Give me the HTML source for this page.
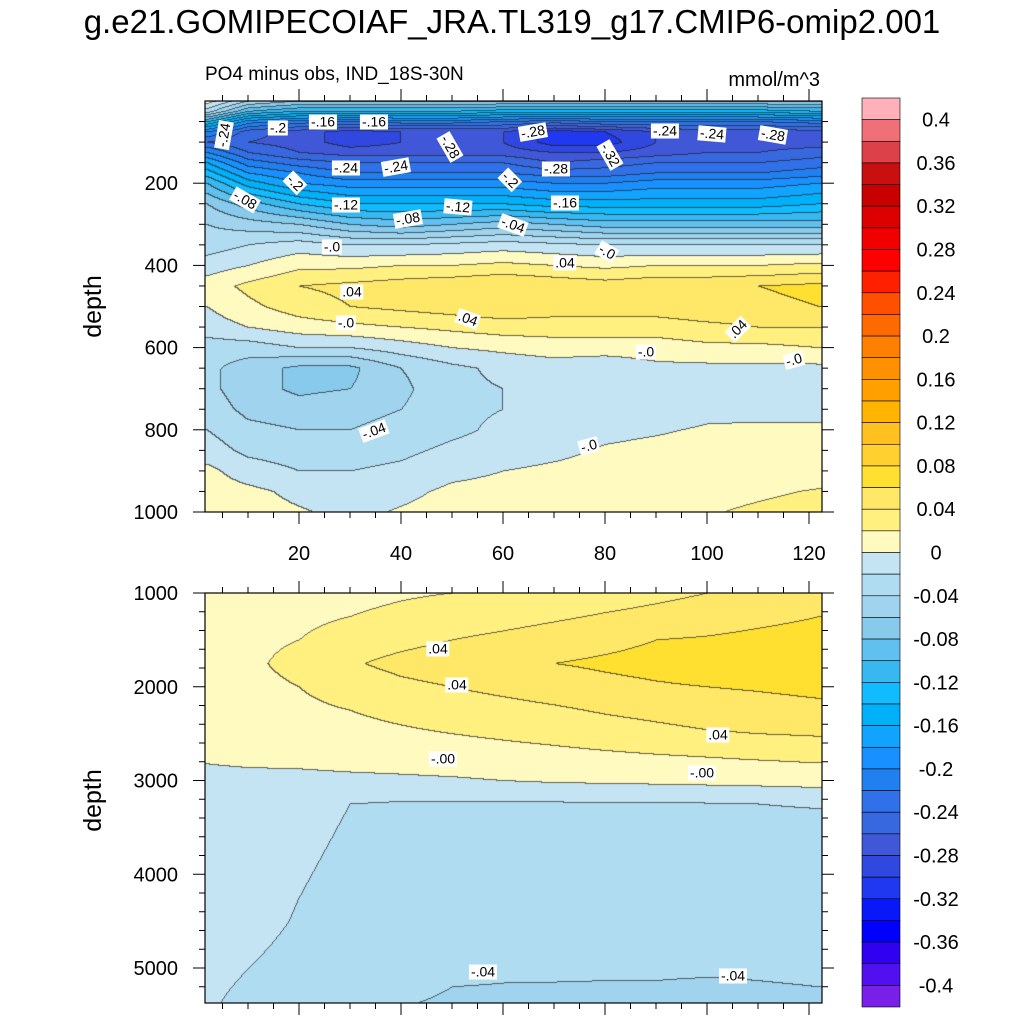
<!DOCTYPE html>
<html><head><meta charset="utf-8">
<style>
body{margin:0;background:#fff;width:1024px;height:1024px;overflow:hidden;position:relative;font-family:"Liberation Sans",sans-serif;}
.abs{position:absolute;}
.lbl{position:absolute;background:#fff;font-size:14px;line-height:15px;padding:0 2px;transform:translate(-50%,-50%);white-space:nowrap;color:#000;}
canvas{position:absolute;}
</style></head><body>
<div class="abs" style="left:0;width:1024px;top:3px;text-align:center;font-size:33px;">g.e21.GOMIPECOIAF_JRA.TL319_g17.CMIP6-omip2.001</div>
<div class="abs" style="left:205px;top:64px;font-size:19px;">PO4 minus obs, IND_18S-30N</div>
<div class="abs" style="left:680px;width:140px;text-align:right;top:69px;font-size:20px;">mmol/m^3</div>
<div class="abs" style="left:62px;top:292px;font-size:25px;transform:rotate(-90deg);">depth</div>
<div class="abs" style="left:62px;top:786px;font-size:25px;transform:rotate(-90deg);">depth</div>
<canvas id="c1" width="617" height="411" style="left:205px;top:101px"></canvas>
<canvas id="c2" width="617" height="410" style="left:205px;top:593px"></canvas>
<svg id="ax" width="1024" height="1024" style="position:absolute;left:0;top:0"></svg>
<div id="labels"></div>
<script>
const xCols=[2,10,20,30,40,50,60,70,80,90,100,110,122];
const topDepths=[0,25,50,75,100,125,150,175,200,250,300,350,400,450,500,550,600,650,700,750,800,850,900,950,1000];
const topVals=[
[0.01,-0.04,-0.06,-0.06,-0.06,-0.06,-0.06,-0.06,-0.06,-0.06,-0.06,-0.06,-0.06],
[-0.03,-0.10,-0.12,-0.12,-0.12,-0.12,-0.13,-0.13,-0.13,-0.13,-0.13,-0.13,-0.12],
[-0.12,-0.19,-0.21,-0.22,-0.21,-0.21,-0.22,-0.23,-0.22,-0.22,-0.22,-0.22,-0.21],
[-0.2,-0.25,-0.27,-0.29,-0.28,-0.28,-0.28,-0.31,-0.30,-0.28,-0.27,-0.27,-0.27],
[-0.24,-0.26,-0.27,-0.29,-0.28,-0.28,-0.28,-0.31,-0.31,-0.28,-0.27,-0.27,-0.27],
[-0.2,-0.24,-0.26,-0.27,-0.27,-0.27,-0.27,-0.28,-0.28,-0.27,-0.26,-0.26,-0.25],
[-0.16,-0.21,-0.23,-0.24,-0.24,-0.24,-0.24,-0.26,-0.25,-0.24,-0.24,-0.24,-0.23],
[-0.13,-0.18,-0.2,-0.22,-0.22,-0.22,-0.22,-0.23,-0.23,-0.22,-0.22,-0.22,-0.21],
[-0.10,-0.15,-0.18,-0.19,-0.19,-0.19,-0.19,-0.2,-0.2,-0.19,-0.19,-0.19,-0.18],
[-0.06,-0.09,-0.12,-0.14,-0.14,-0.14,-0.14,-0.15,-0.15,-0.15,-0.15,-0.15,-0.14],
[-0.04,-0.05,-0.06,-0.08,-0.09,-0.08,-0.07,-0.08,-0.09,-0.09,-0.09,-0.09,-0.09],
[-0.03,-0.02,-0.01,-0.02,-0.02,-0.015,-0.01,-0.015,-0.02,-0.02,-0.02,-0.02,-0.02],
[-0.01,0.0,0.015,0.015,0.02,0.02,0.025,0.02,0.015,0.02,0.02,0.02,0.025],
[0.01,0.025,0.04,0.045,0.05,0.055,0.06,0.055,0.05,0.055,0.055,0.06,0.065],
[0.0,0.015,0.03,0.04,0.045,0.05,0.055,0.05,0.05,0.05,0.055,0.055,0.06],
[-0.01,0.0,0.01,0.015,0.02,0.025,0.03,0.03,0.03,0.03,0.035,0.04,0.04],
[-0.03,-0.03,-0.02,-0.02,-0.01,0.0,0.005,0.01,0.01,0.01,0.015,0.015,0.02],
[-0.035,-0.05,-0.065,-0.065,-0.04,-0.025,-0.015,-0.01,-0.015,-0.005,-0.005,-0.005,-0.005],
[-0.035,-0.05,-0.065,-0.06,-0.045,-0.025,-0.02,-0.01,-0.01,-0.01,-0.01,-0.01,-0.01],
[-0.03,-0.045,-0.05,-0.045,-0.04,-0.025,-0.02,-0.015,-0.01,-0.01,-0.005,-0.005,-0.005],
[-0.02,-0.035,-0.04,-0.04,-0.035,-0.025,-0.015,-0.01,-0.005,-0.002,0.002,0.003,0.003],
[-0.01,-0.025,-0.03,-0.03,-0.025,-0.015,-0.01,-0.005,0.002,0.005,0.007,0.008,0.008],
[0.005,-0.01,-0.02,-0.02,-0.015,-0.005,0.0,0.004,0.008,0.01,0.012,0.013,0.014],
[0.01,0.005,-0.005,-0.01,-0.005,0.004,0.006,0.009,0.012,0.014,0.016,0.018,0.021],
[0.012,0.008,0.002,-0.005,0.002,0.008,0.01,0.012,0.014,0.016,0.019,0.022,0.025]];
const botDepths=[1000,1250,1500,1750,2000,2250,2500,2750,3000,3250,3500,4000,4500,5000,5200,5370];
const botVals=[
[0.005,0.01,0.012,0.015,0.018,0.02,0.022,0.025,0.03,0.035,0.04,0.045,0.05],
[0.005,0.012,0.015,0.02,0.024,0.028,0.032,0.037,0.042,0.046,0.05,0.055,0.06],
[0.005,0.014,0.02,0.03,0.035,0.04,0.045,0.05,0.055,0.06,0.062,0.065,0.068],
[0.0,0.015,0.028,0.038,0.045,0.05,0.058,0.06,0.063,0.066,0.07,0.073,0.075],
[0.004,0.012,0.02,0.03,0.036,0.04,0.045,0.05,0.055,0.058,0.06,0.062,0.065],
[0.006,0.01,0.015,0.02,0.025,0.03,0.033,0.037,0.042,0.046,0.05,0.052,0.055],
[0.005,0.008,0.01,0.014,0.017,0.02,0.023,0.026,0.03,0.034,0.038,0.04,0.042],
[0.002,0.004,0.005,0.007,0.008,0.01,0.012,0.014,0.016,0.018,0.02,0.022,0.024],
[-0.005,-0.005,-0.005,-0.004,-0.003,-0.002,0.0,0.002,0.003,0.004,0.005,0.006,0.008],
[-0.01,-0.012,-0.016,-0.02,-0.022,-0.022,-0.022,-0.022,-0.022,-0.022,-0.021,-0.02,-0.019],
[-0.01,-0.013,-0.017,-0.021,-0.023,-0.024,-0.025,-0.025,-0.025,-0.025,-0.024,-0.024,-0.024],
[-0.01,-0.014,-0.019,-0.023,-0.025,-0.026,-0.027,-0.027,-0.027,-0.027,-0.027,-0.027,-0.027],
[-0.012,-0.016,-0.021,-0.025,-0.027,-0.028,-0.03,-0.03,-0.03,-0.03,-0.03,-0.03,-0.03],
[-0.015,-0.02,-0.024,-0.028,-0.031,-0.034,-0.036,-0.037,-0.038,-0.038,-0.038,-0.038,-0.037],
[-0.017,-0.022,-0.027,-0.032,-0.036,-0.04,-0.041,-0.041,-0.041,-0.041,-0.042,-0.041,-0.04],
[-0.018,-0.024,-0.03,-0.035,-0.039,-0.042,-0.043,-0.043,-0.043,-0.043,-0.043,-0.043,-0.043]];
const levelColors=["#7820E8","#5010F0","#3000F0","#0000FF","#0818F8","#2038F0","#3048E0","#4058D8","#3868E0","#3070E8","#2080F0","#1890FF","#10A4FF","#00B0F8","#10BCFF","#38B8F0","#60C0F0","#88CAEC","#A0D4EE","#B0DCF2","#C4E4F4",
"#FFFAC0","#FFF080","#FFE868","#FFE030","#FFD030","#FFC020","#FFB400","#FFA000","#FF9000","#FF8000","#FF6A00","#FF5000","#FF2000","#FF0000","#F00000","#DC0000","#C80000","#C81010","#DC4048","#F07078","#FFB0B8"];
const cbLabels=["0.4","0.36","0.32","0.28","0.24","0.2","0.16","0.12","0.08","0.04","0","-0.04","-0.08","-0.12","-0.16","-0.2","-0.24","-0.28","-0.32","-0.36","-0.4"];

const xPx=x=>197+5.1*x;
function seg(arr,v){let i=0;while(i<arr.length-2&&v>arr[i+1])i++;let t=(v-arr[i])/(arr[i+1]-arr[i]);t=Math.max(0,Math.min(1,t));return [i,t];}
function interp(xs,ds,vals,x,d){const [i,tx]=seg(xs,x);const [j,ty]=seg(ds,d);
 const a=vals[j][i]*(1-tx)+vals[j][i+1]*tx, b=vals[j+1][i]*(1-tx)+vals[j+1][i+1]*tx;return a*(1-ty)+b*ty;}
function hex(c){return [parseInt(c.slice(1,3),16),parseInt(c.slice(3,5),16),parseInt(c.slice(5,7),16)];}
const rgb=levelColors.map(hex);
function level(v){return Math.max(0,Math.min(41,Math.floor((v+0.42)/0.02+1e-9)));}
function draw(id,ds,vals,depthOf){
 const cv=document.getElementById(id),ctx=cv.getContext('2d'),W=cv.width,H=cv.height;
 const img=ctx.createImageData(W,H);const L=new Int16Array(W*H);
 for(let py=0;py<H;py++){const d=depthOf(py);for(let px=0;px<W;px++){const x=(205+px-197)/5.1;L[py*W+px]=level(interp(xCols,ds,vals,x,d));}}
 for(let py=0;py<H;py++)for(let px=0;px<W;px++){const k=py*W+px,l=L[k];let c=rgb[l];
  const edge=(px<W-1&&L[k+1]!==l)||(py<H-1&&L[k+W]!==l);
  const o=k*4; if(edge){img.data[o]=c[0]*0.3+25;img.data[o+1]=c[1]*0.3+25;img.data[o+2]=c[2]*0.3+25;}else{img.data[o]=c[0];img.data[o+1]=c[1];img.data[o+2]=c[2];} img.data[o+3]=255;}
 ctx.putImageData(img,0,0);}
draw('c1',topDepths,topVals,py=>py/411*1000);
draw('c2',botDepths,botVals,py=>1000+py/93.75*1000);

const svg=document.getElementById('ax');const NS='http://www.w3.org/2000/svg';
function el(tag,attrs,name){const e=document.createElementNS(NS,tag);for(const k in attrs)e.setAttribute(k,attrs[k]);
 
 
 svg.appendChild(e);return e;}
function line(x1,y1,x2,y2,name){return el('line',{x1,y1,x2,y2,stroke:'#000','stroke-width':1},name);}
el('rect',{x:205,y:101,width:617,height:411,fill:'none',stroke:'#000','stroke-width':1.2},'top-panel-frame');
el('rect',{x:205,y:593,width:617,height:410,fill:'none',stroke:'#000','stroke-width':1.2},'bottom-panel-frame');
for(let x=5;x<=120;x+=5){const px=xPx(x),maj=x%20===0,len=maj?12:6;
 line(px,101,px,101-len,'x-tick');line(px,512,px,512+len,'x-tick');
 line(px,593,px,593-len,'x-tick');line(px,1003,px,1003+len,'x-tick');}
const xTicks=[20,40,60,80,100,120];
xTicks.forEach(x=>{const t=el('text',{x:xPx(x),y:560,'text-anchor':'middle','font-size':20,'font-family':'Liberation Sans'},'x-tick-label');t.textContent=x;});
const topYTicks=[200,400,600,800,1000];
for(let d=50;d<=1000;d+=50){const py=101+d*0.411,maj=d%200===0,len=maj?12:6;line(205,py,205-len,py,'y-tick');line(822,py,822+len,py,'y-tick');}
topYTicks.forEach(d=>{const t=el('text',{x:178,y:101+d*0.411+7,'text-anchor':'end','font-size':20,'font-family':'Liberation Sans'},'y-tick-label');t.textContent=d;});
const botYTicks=[1000,2000,3000,4000,5000];
for(let d=1000;d<=5350;d+=200){const py=593+(d-1000)*0.09375,maj=d%1000===0,len=maj?12:6;line(205,py,205-len,py,'y-tick');line(822,py,822+len,py,'y-tick');}
botYTicks.forEach(d=>{const t=el('text',{x:178,y:593+(d-1000)*0.09375+7,'text-anchor':'end','font-size':20,'font-family':'Liberation Sans'},'y-tick-label');t.textContent=d;});
const cbTop=98,cbH=909/42;
for(let i=0;i<42;i++){const lvl=41-i;el('rect',{x:862,y:cbTop+i*cbH,width:38,height:cbH,fill:levelColors[lvl],stroke:'#000','stroke-width':0.6},'colorbar-box');}
cbLabels.forEach((s,i)=>{const t=el('text',{x:936,y:cbTop+cbH*(1+2*i)+7,'text-anchor':'middle','font-size':20,'font-family':'Liberation Sans'},'colorbar-label');t.textContent=s;});

const lbls=[["-.24",224,135,-80],["-.2",278,128,0],["-.16",323,122,0],["-.16",374,122,0],["-.28",533,132,-10],["-.24",665,131,0],["-.24",712,134,5],["-.28",773,135,10],["-.28",450,147,60],["-.32",610,155,60],["-.24",346,168,0],["-.24",396,167,-10],["-.2",295,183,45],["-.2",510,180,45],["-.28",556,169,0],["-.08",245,200,30],["-.12",346,205,0],["-.12",458,207,5],["-.16",565,203,0],["-.08",408,219,-10],["-.04",513,225,20],["-.0",332,247,0],["-.0",607,252,30],[".04",565,263,0],[".04",352,292,0],[".04",468,319,20],["-.0",346,323,0],[".04",738,329,-45],["-.0",646,352,0],["-.0",794,360,-15],["-.04",374,431,-20],["-.0",589,446,-15],
[".04",438,649,0],[".04",457,685,0],[".04",718,735,0],["-.00",443,759,0],["-.00",702,773,0],["-.04",483,972,0],["-.04",733,976,0]];
const host=document.getElementById('labels');
lbls.forEach(([s,x,y,r])=>{const d=document.createElement('div');d.className='lbl';d.textContent=s;d.style.left=x+'px';d.style.top=y+'px';d.style.transform='translate(-50%,-50%) rotate('+r+'deg)';
 
 
 host.appendChild(d);});
</script>
</body></html>
